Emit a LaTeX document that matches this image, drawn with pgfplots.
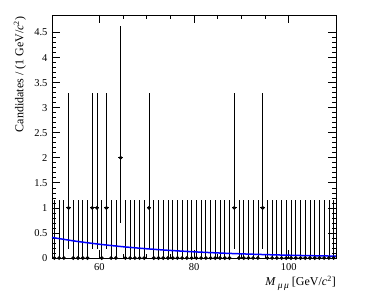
\documentclass[border=0pt]{standalone}
\usepackage{fontspec}
\setmainfont{Liberation Serif}
\usepackage{pgfplots}
\pgfplotsset{compat=1.18}
\usepackage{pgfplotstable}
\pgfplotstableread{
x y ex eym eyp
50.5 0 0.5 0 1.148
51.5 0 0.5 0 1.148
52.5 0 0.5 0 1.148
53.5 1 0.5 0.827 2.300
54.5 0 0.5 0 1.148
55.5 0 0.5 0 1.148
56.5 0 0.5 0 1.148
57.5 0 0.5 0 1.148
58.5 1 0.5 0.827 2.300
59.5 1 0.5 0.827 2.300
60.5 0 0.5 0 1.148
61.5 1 0.5 0.827 2.300
62.5 0 0.5 0 1.148
63.5 0 0.5 0 1.148
64.5 2 0.5 1.292 2.638
65.5 0 0.5 0 1.148
66.5 0 0.5 0 1.148
67.5 0 0.5 0 1.148
68.5 0 0.5 0 1.148
69.5 0 0.5 0 1.148
70.5 1 0.5 0.827 2.300
71.5 0 0.5 0 1.148
72.5 0 0.5 0 1.148
73.5 0 0.5 0 1.148
74.5 0 0.5 0 1.148
75.5 0 0.5 0 1.148
76.5 0 0.5 0 1.148
77.5 0 0.5 0 1.148
78.5 0 0.5 0 1.148
79.5 0 0.5 0 1.148
80.5 0 0.5 0 1.148
81.5 0 0.5 0 1.148
82.5 0 0.5 0 1.148
83.5 0 0.5 0 1.148
84.5 0 0.5 0 1.148
85.5 0 0.5 0 1.148
86.5 0 0.5 0 1.148
87.5 0 0.5 0 1.148
88.5 1 0.5 0.827 2.300
89.5 0 0.5 0 1.148
90.5 0 0.5 0 1.148
91.5 0 0.5 0 1.148
92.5 0 0.5 0 1.148
93.5 0 0.5 0 1.148
94.5 1 0.5 0.827 2.300
95.5 0 0.5 0 1.148
96.5 0 0.5 0 1.148
97.5 0 0.5 0 1.148
98.5 0 0.5 0 1.148
99.5 0 0.5 0 1.148
100.5 0 0.5 0 1.148
101.5 0 0.5 0 1.148
102.5 0 0.5 0 1.148
103.5 0 0.5 0 1.148
104.5 0 0.5 0 1.148
105.5 0 0.5 0 1.148
106.5 0 0.5 0 1.148
107.5 0 0.5 0 1.148
108.5 0 0.5 0 1.148
109.5 0 0.5 0 1.148
}\datatable
\pgfplotstableread{
x f
50 0.410
55 0.3357
60 0.2748
65 0.2250
70 0.1842
75 0.1508
80 0.1235
85 0.1011
90 0.0828
95 0.0678
100 0.0555
105 0.0454
110 0.0372
}\fittable
\begin{document}
\begin{tikzpicture}
\useasboundingbox (0,0) rectangle (374pt,307pt);
\begin{axis}[
  at={(52pt,49pt)}, anchor=south west,
  scale only axis, width=284pt, height=243pt,
  xmin=50, xmax=110, ymin=0, ymax=4.85,
  xtick={60,80,100}, minor x tick num=3,
  ytick={0,0.5,1,1.5,2,2.5,3,3.5,4,4.5},
  yticklabels={0,0.5,1,1.5,2,2.5,3,3.5,4,4.5},
  minor y tick num=4,
  tick align=inside, xtick pos=both, ytick pos=both,
  major tick length=8pt, minor tick length=4pt,
  tick style={black, line width=0.7pt},
  axis line style={line width=0.9pt},
  /pgf/number format/assume math mode=true,
  ticklabel style={font=\fontsize{10.5}{12}\selectfont},
  xticklabel style={yshift=-2pt},
  yticklabel style={xshift=-1pt},
  ylabel={Candidates / (1 GeV/\textit{c}\textsuperscript{2})},
  ylabel style={at={(axis description cs:-0.113,1.008)}, anchor=east, font=\fontsize{12}{14}\selectfont},
  xlabel={\textit{M}\,\raisebox{-0.4ex}{\fontsize{9.5}{10}\selectfont\textit{μ\,μ}} [GeV/\textit{c}\textsuperscript{2}]},
  xlabel style={at={(axis description cs:1,0)}, anchor=base east, yshift=-28pt, inner sep=0pt, font=\fontsize{12}{14}\selectfont},
]
\addplot[black, line width=0.8pt, only marks, mark=*, mark size=1.5pt,
  error bars/.cd, x dir=both, x explicit, y dir=both, y explicit,
  error mark=none, error bar style={black, line width=0.8pt}]
  table[x=x, y=y, x error=ex, y error minus=eym, y error plus=eyp] {\datatable};
\addplot[blue, line width=1.5pt, smooth, no marks] table[x=x, y=f] {\fittable};
\end{axis}
\end{tikzpicture}
\end{document}
